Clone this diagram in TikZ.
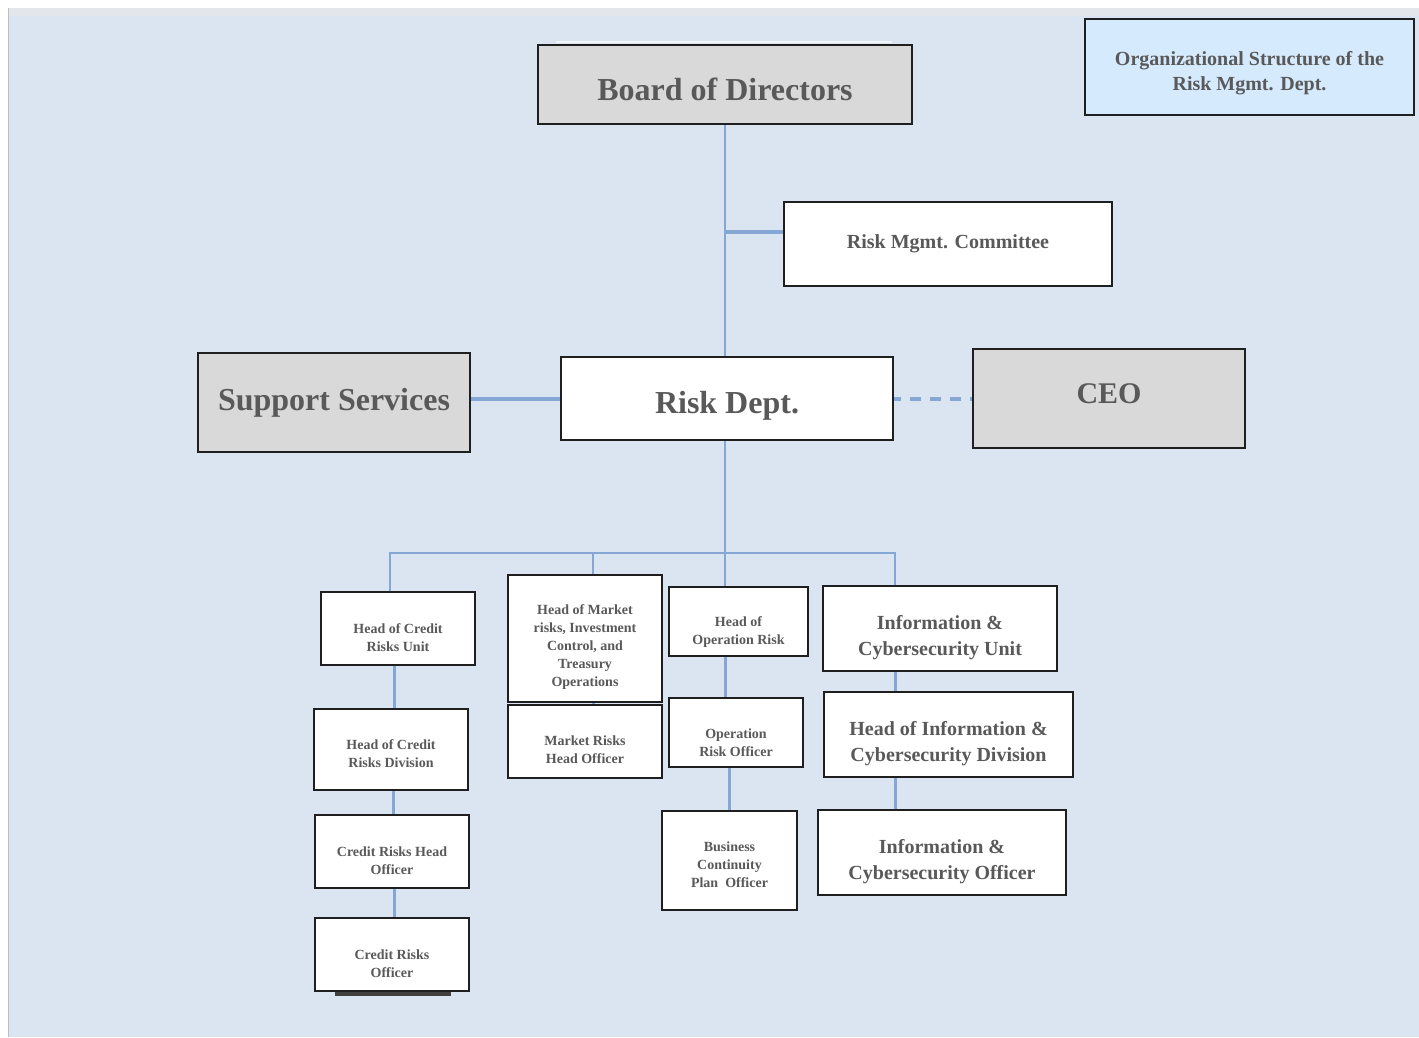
\documentclass[tikz,border=0pt]{standalone}
\usepackage{fontspec}
\setmainfont{Liberation Serif}
\usepackage{tikz}

\definecolor{bg}{HTML}{DBE5F1}
\definecolor{strip}{HTML}{E3E7EC}
\definecolor{lnk}{HTML}{84A7D6}
\definecolor{ink}{HTML}{595959}
\definecolor{edge}{HTML}{1F1F1F}
\definecolor{boxgrey}{HTML}{D9D9D9}
\definecolor{boxblue}{HTML}{D6EAFD}

% strut that pushes a box's text down a little
\newcommand{\vpad}[1]{\rule{0pt}{#1}}

\begin{document}
\begin{tikzpicture}[x=1pt,y=-1pt,
  k/.style={rectangle,draw=edge,line width=1.5pt,fill=white,text=ink,inner sep=0pt,align=center},
  g/.style={k,fill=boxgrey},
  big/.style={font=\bfseries\fontsize{32}{38}\selectfont},
  mid/.style={font=\bfseries\fontsize{20}{26}\selectfont},
  sml/.style={font=\bfseries\fontsize{14}{18}\selectfont},
  ln/.style={draw=lnk,line width=3pt}]

  \useasboundingbox (0,0) rectangle (1419,1037);
  \fill[bg] (8,8) rectangle (1419,1037);
  \fill[strip] (8,8) rectangle (1419,16);
  \draw[black!25,line width=1pt] (8.5,8) -- (8.5,1037);
  \draw[white!60!bg,line width=2pt] (556,42) -- (892,42);

  % top part
  \node[k,fill=boxblue,minimum width=329,minimum height=96,font=\bfseries\fontsize{20}{25}\selectfont] (title) at (1249.5,67) {\vpad{27pt}Organizational Structure of the\\Risk Mgmt. Dept.};
  \node[g,big,minimum width=374,minimum height=79] (board) at (725,84.5) {\vpad{32pt}Board of Directors};
  \node[k,mid,minimum width=328,minimum height=84] (comm) at (948,244) {Risk Mgmt. Committee};
  \node[g,big,minimum width=272,minimum height=99] (supp) at (334,402.5) {Support Services};
  \node[k,big,minimum width=332,minimum height=83] (risk) at (727,398.5) {\vpad{36pt}Risk Dept.};
  \node[g,big,minimum width=272,minimum height=99,font=\bfseries\fontsize{30}{36}\selectfont,text depth=10pt] (ceo) at (1109,398.5) {CEO};

  % units under the risk department
  \node[k,sml,minimum width=154,minimum height=73] (credunit) at (398,628.5) {\vpad{28pt}Head of Credit\\Risks Unit};
  \node[k,sml,minimum width=154,minimum height=127] (mkt) at (585,638.5) {\vpad{27pt}Head of Market\\risks, Investment\\Control, and\\Treasury\\Operations};
  \node[k,sml,minimum width=139,minimum height=69] (opshead) at (738.5,621.5) {\vpad{31pt}Head of\\Operation Risk};
  \node[k,mid,minimum width=234,minimum height=85] (infounit) at (940,628.5) {\vpad{33pt}Information \&\\Cybersecurity Unit};

  \node[k,sml,minimum width=154,minimum height=81] (creddiv) at (391,749.5) {\vpad{19pt}Head of Credit\\Risks Division};
  \node[k,sml,minimum width=154,minimum height=73] (mktoff) at (585,741.5) {\vpad{27pt}Market Risks\\Head Officer};
  \node[k,sml,minimum width=134,minimum height=69] (opsoff) at (736,732.5) {\vpad{31pt}Operation\\Risk Officer};
  \node[k,mid,minimum width=249,minimum height=85] (infodiv) at (948.5,734.5) {\vpad{33pt}Head of Information \&\\Cybersecurity Division};

  \node[k,sml,minimum width=154,minimum height=73] (credhead) at (392,851.5) {\vpad{28pt}Credit Risks Head\\Officer};
  \node[k,sml,minimum width=135,minimum height=99] (bcp) at (729.5,860.5) {\vpad{19pt}Business\\Continuity\\Plan~ Officer};
  \node[k,mid,minimum width=248,minimum height=85] (infooff) at (942,852.5) {\vpad{33pt}Information \&\\Cybersecurity Officer};

  \fill[black!75] ([xshift=-57pt]392,991) rectangle ([xshift=59pt]392,996);
  \node[k,sml,minimum width=154,minimum height=73] (credoff) at (392,954.5) {\vpad{29pt}Credit Risks\\Officer};

  % reporting lines
  \coordinate (rc) at (725,232);
  \coordinate (bus) at (725,553);
  \coordinate (busL) at (390,553);
  \coordinate (busR) at (895,553);

  \draw[ln,line width=1.5pt] (board.south) -- (board.south |- risk.north);
  \draw[ln,line width=4pt] (rc) -- (comm.west |- rc);
  \draw[ln,line width=4pt] (supp.east |- risk.west) -- (risk.west);
  \draw[ln,line width=4pt,dash pattern=on 11pt off 9pt,dash phase=4pt] (risk.east) -- (ceo.west |- risk.east);

  \draw[ln,line width=2pt] (bus |- risk.south) -- (bus);
  \draw[ln,line width=2.5pt] (busL |- credunit.north) -- (busL) -- (busR) -- (busR |- infounit.north);
  \draw[ln,line width=2.5pt] (593,553) -- ([xshift=8pt]mkt.north);
  \draw[ln,line width=2.5pt] (bus) -- (bus |- opshead.north);

  \draw[ln] ([xshift=-4pt]credunit.south) -- ([xshift=-4pt]credunit.south |- creddiv.north);
  \draw[ln] ([xshift=2pt]creddiv.south) -- ([xshift=2pt]creddiv.south |- credhead.north);
  \draw[ln] ([xshift=2pt]credhead.south) -- ([xshift=2pt]credhead.south |- credoff.north);
  \draw[ln] ([xshift=8pt]mkt.south) -- ([xshift=8pt]mkt.south |- mktoff.north);
  \draw[ln] (bus |- opshead.south) -- (bus |- opsoff.north);
  \draw[ln] (bcp.north |- opsoff.south) -- (bcp.north);
  \draw[ln] (busR |- infounit.south) -- (busR |- infodiv.north);
  \draw[ln] (busR |- infodiv.south) -- (busR |- infooff.north);
\end{tikzpicture}
\end{document}
